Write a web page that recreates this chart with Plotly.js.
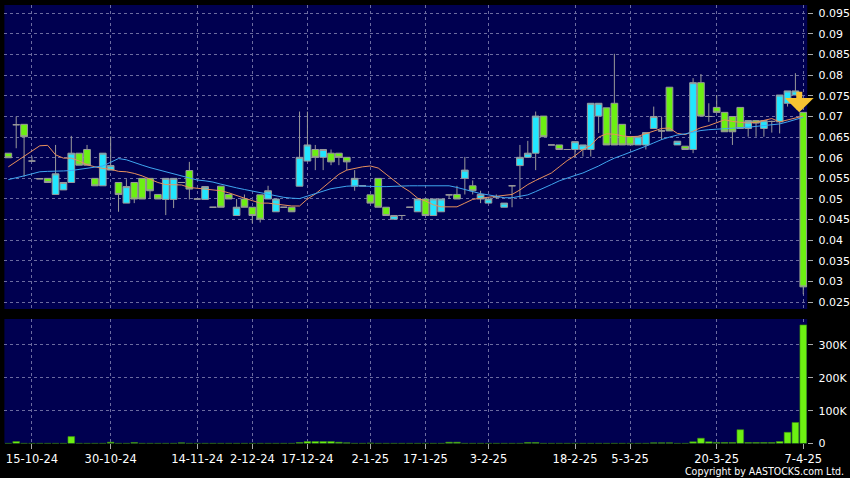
<!DOCTYPE html>
<html><head><meta charset="utf-8">
<script src="https://cdn.plot.ly/plotly-3.0.1.min.js"></script>
<style>html,body{margin:0;padding:0;background:#000;} #chart{width:850px;height:478px;}</style>
</head><body><div id="chart"></div>
<script>
const dates = ["2024-10-09","2024-10-10","2024-10-14","2024-10-15","2024-10-16","2024-10-17","2024-10-18","2024-10-21","2024-10-23","2024-10-24","2024-10-25","2024-10-28","2024-10-29","2024-10-30","2024-10-31","2024-11-01","2024-11-04","2024-11-05","2024-11-06","2024-11-07","2024-11-08","2024-11-11","2024-11-12","2024-11-13","2024-11-14","2024-11-15","2024-11-18","2024-11-20","2024-11-22","2024-11-26","2024-11-28","2024-12-02","2024-12-04","2024-12-06","2024-12-09","2024-12-11","2024-12-13","2024-12-16","2024-12-17","2024-12-18","2024-12-19","2024-12-20","2024-12-23","2024-12-24","2024-12-27","2024-12-30","2025-01-02","2025-01-03","2025-01-06","2025-01-08","2025-01-10","2025-01-13","2025-01-15","2025-01-17","2025-01-20","2025-01-21","2025-01-22","2025-01-23","2025-01-24","2025-01-27","2025-01-28","2025-02-03","2025-02-04","2025-02-05","2025-02-06","2025-02-07","2025-02-10","2025-02-11","2025-02-12","2025-02-13","2025-02-14","2025-02-17","2025-02-18","2025-02-20","2025-02-24","2025-02-26","2025-02-28","2025-03-03","2025-03-04","2025-03-05","2025-03-06","2025-03-07","2025-03-10","2025-03-11","2025-03-12","2025-03-13","2025-03-14","2025-03-17","2025-03-18","2025-03-19","2025-03-20","2025-03-21","2025-03-24","2025-03-25","2025-03-26","2025-03-27","2025-03-28","2025-03-31","2025-04-01","2025-04-02","2025-04-03","2025-04-07"];

const opens = [0.0611,0.0680,0.0681,0.0592,0.0549,0.0550,0.0511,0.0522,0.0540,0.0611,
0.0620,0.0550,0.0532,0.0570,0.0540,0.0490,0.0540,0.0550,0.0550,0.0511,
0.0499,0.0499,0.0540,0.0569,0.0500,0.0499,0.0480,0.0531,0.0511,0.0460,
0.0500,0.0480,0.0510,0.0500,0.0469,0.0480,0.0480,0.0531,0.0592,0.0620,
0.0601,0.0611,0.0611,0.0601,0.0531,0.0532,0.0510,0.0550,0.0480,0.0451,
0.0460,0.0480,0.0469,0.0500,0.0460,0.0469,0.0510,0.0511,0.0550,0.0532,
0.0500,0.0490,0.0505,0.0480,0.0532,0.0581,0.0601,0.0611,0.0701,0.0631,
0.0631,0.0620,0.0620,0.0620,0.0620,0.0701,0.0721,0.0732,0.0681,0.0651,
0.0631,0.0631,0.0671,0.0665,0.0771,0.0631,0.0628,0.0620,0.0782,0.0700,
0.0722,0.0710,0.0700,0.0722,0.0671,0.0690,0.0671,0.0688,0.0687,0.0732,
0.0752,0.0710];

const highs = [0.0611,0.0700,0.0681,0.0603,0.0549,0.0550,0.0631,0.0540,0.0653,0.0611,
0.0631,0.0550,0.0611,0.0652,0.0540,0.0548,0.0540,0.0550,0.0550,0.0511,
0.0550,0.0550,0.0540,0.0590,0.0500,0.0530,0.0480,0.0531,0.0511,0.0500,
0.0511,0.0480,0.0510,0.0532,0.0500,0.0480,0.0480,0.0712,0.0712,0.0631,
0.0620,0.0620,0.0611,0.0601,0.0570,0.0532,0.0510,0.0550,0.0480,0.0460,
0.0460,0.0480,0.0500,0.0500,0.0500,0.0500,0.0511,0.0532,0.0602,0.0545,
0.0520,0.0500,0.0511,0.0490,0.0532,0.0631,0.0641,0.0712,0.0701,0.0631,
0.0631,0.0620,0.0639,0.0631,0.0732,0.0732,0.0721,0.0852,0.0681,0.0651,
0.0651,0.0661,0.0724,0.0700,0.0771,0.0640,0.0628,0.0793,0.0803,0.0732,
0.0752,0.0710,0.0700,0.0722,0.0690,0.0690,0.0690,0.0690,0.0752,0.0762,
0.0805,0.0710];

const lows = [0.0600,0.0623,0.0554,0.0592,0.0549,0.0540,0.0511,0.0522,0.0540,0.0582,
0.0582,0.0532,0.0532,0.0570,0.0469,0.0490,0.0490,0.0500,0.0500,0.0500,
0.0461,0.0478,0.0540,0.0499,0.0500,0.0499,0.0480,0.0480,0.0500,0.0460,
0.0480,0.0441,0.0443,0.0500,0.0469,0.0480,0.0469,0.0531,0.0592,0.0570,
0.0570,0.0582,0.0582,0.0570,0.0520,0.0532,0.0490,0.0480,0.0460,0.0451,
0.0451,0.0480,0.0469,0.0460,0.0460,0.0469,0.0500,0.0500,0.0511,0.0511,
0.0490,0.0490,0.0500,0.0480,0.0480,0.0500,0.0601,0.0570,0.0651,0.0631,
0.0620,0.0620,0.0601,0.0603,0.0603,0.0660,0.0631,0.0631,0.0631,0.0631,
0.0631,0.0620,0.0671,0.0643,0.0665,0.0631,0.0620,0.0611,0.0701,0.0687,
0.0710,0.0663,0.0631,0.0671,0.0651,0.0651,0.0651,0.0661,0.0659,0.0724,
0.0752,0.0269];

const closes = [0.0600,0.0680,0.0651,0.0592,0.0549,0.0540,0.0561,0.0540,0.0611,0.0582,
0.0582,0.0532,0.0611,0.0581,0.0511,0.0530,0.0500,0.0500,0.0520,0.0500,
0.0550,0.0550,0.0540,0.0524,0.0500,0.0530,0.0480,0.0480,0.0500,0.0480,
0.0480,0.0460,0.0451,0.0520,0.0500,0.0480,0.0469,0.0601,0.0631,0.0601,
0.0620,0.0590,0.0601,0.0590,0.0550,0.0532,0.0490,0.0480,0.0460,0.0460,
0.0460,0.0480,0.0500,0.0460,0.0500,0.0500,0.0510,0.0500,0.0570,0.0520,
0.0511,0.0500,0.0505,0.0490,0.0532,0.0601,0.0611,0.0701,0.0651,0.0631,
0.0620,0.0620,0.0639,0.0631,0.0732,0.0732,0.0631,0.0631,0.0631,0.0631,
0.0651,0.0661,0.0700,0.0665,0.0665,0.0640,0.0620,0.0782,0.0701,0.0700,
0.0710,0.0663,0.0663,0.0671,0.0690,0.0684,0.0690,0.0688,0.0752,0.0762,
0.0762,0.0287];

const volumes = [500,6000,500,500,500,500,500,500,21000,500,
500,500,500,4000,500,500,3000,500,500,500,
500,500,2000,500,500,500,500,500,500,500,
500,500,500,500,500,500,500,3000,6000,6000,
6000,6000,4000,2000,500,500,1500,500,500,500,
500,500,500,500,500,500,4000,4000,500,500,
500,500,500,500,500,500,3000,3000,500,500,
500,500,500,500,500,500,500,500,500,500,
500,500,2000,2000,2000,500,500,5000,16000,5000,
3000,3000,3000,42000,3000,3000,3000,3000,6000,34000,
64000,361000];

const maShort = [0.0578,0.0591,0.0604,0.0617,0.0629,0.0630,0.0607,0.0599,0.0599,0.0592,
0.0583,0.0578,0.0574,0.0572,0.0567,0.0566,0.0562,0.0556,0.0547,0.0540,
0.0535,0.0534,0.0534,0.0528,0.0526,0.0524,0.0522,0.0520,0.0515,0.0508,
0.0502,0.0496,0.0490,0.0490,0.0488,0.0485,0.0483,0.0483,0.0500,0.0512,
0.0528,0.0545,0.0560,0.0570,0.0574,0.0578,0.0580,0.0575,0.0560,0.0545,
0.0530,0.0518,0.0502,0.0495,0.0486,0.0481,0.0481,0.0481,0.0490,0.0499,
0.0502,0.0504,0.0506,0.0508,0.0511,0.0522,0.0535,0.0545,0.0554,0.0563,
0.0578,0.0593,0.0605,0.0620,0.0630,0.0650,0.0658,0.0657,0.0653,0.0651,
0.0652,0.0658,0.0665,0.0671,0.0672,0.0659,0.0656,0.0665,0.0673,0.0678,
0.0685,0.0692,0.0688,0.0686,0.0684,0.0686,0.0690,0.0695,0.0687,0.0692,
0.0697,0.0701];

const maLong = [0.0547,0.0551,0.0556,0.0561,0.0566,0.0567,0.0567,0.0568,0.0569,0.0572,
0.0575,0.0577,0.0580,0.0589,0.0598,0.0595,0.0588,0.0582,0.0576,0.0571,
0.0566,0.0561,0.0555,0.0550,0.0546,0.0544,0.0541,0.0536,0.0531,0.0527,
0.0523,0.0519,0.0515,0.0511,0.0507,0.0504,0.0502,0.0501,0.0507,0.0513,
0.0520,0.0525,0.0528,0.0531,0.0532,0.0531,0.0531,0.0530,0.0530,0.0531,
0.0531,0.0532,0.0532,0.0532,0.0532,0.0532,0.0532,0.0528,0.0523,0.0518,
0.0513,0.0510,0.0506,0.0503,0.0503,0.0506,0.0510,0.0518,0.0526,0.0535,
0.0544,0.0551,0.0557,0.0563,0.0571,0.0580,0.0590,0.0599,0.0606,0.0613,
0.0620,0.0628,0.0636,0.0644,0.0650,0.0655,0.0658,0.0662,0.0666,0.0668,
0.0669,0.0671,0.0672,0.0673,0.0674,0.0676,0.0678,0.0680,0.0682,0.0687,
0.0693,0.0698];

const tickDates = ["2024-10-15","2024-10-30","2024-11-14","2024-12-02","2024-12-17","2025-01-02","2025-01-17","2025-02-03","2025-02-18","2025-03-05","2025-03-20","2025-04-07"];
const tickLabels = ["15-10-24","30-10-24","14-11-24","2-12-24","17-12-24","2-1-25","17-1-25","3-2-25","18-2-25","5-3-25","20-3-25","7-4-25"];
const volTickVals = [0, 100000, 200000, 300000];
const volTickLabels = ["0", "100K", "200K", "300K"];
const copyrightText = "Copyright by AASTOCKS.com Ltd.";

const upFill = '#22e6ff', downFill = '#6cf012', edge = '#9a9a9a';
const gridCol = '#6c6ca0';
const labelFont = {family: 'DejaVu Sans, sans-serif', size: 11, color: '#ffffff'};
const last = dates.length - 1;

const traces = [
  {type: 'candlestick', x: dates, open: opens, high: highs, low: lows, close: closes,
   xaxis: 'x', yaxis: 'y', whiskerwidth: 0, hoverinfo: 'skip', showlegend: false,
   increasing: {line: {color: edge, width: 1}, fillcolor: upFill},
   decreasing: {line: {color: edge, width: 1}, fillcolor: downFill}},
  {type: 'scatter', mode: 'lines', x: dates, y: maShort, xaxis: 'x', yaxis: 'y',
   line: {color: '#e8905c', width: 1}, hoverinfo: 'skip', showlegend: false},
  {type: 'scatter', mode: 'lines', x: dates, y: maLong, xaxis: 'x', yaxis: 'y',
   line: {color: '#3fa6f0', width: 1}, hoverinfo: 'skip', showlegend: false},
  {type: 'bar', x: dates, y: volumes, xaxis: 'x', yaxis: 'y2',
   marker: {color: downFill, line: {color: '#3c8c10', width: 0.6}}, hoverinfo: 'skip', showlegend: false}
];

const layout = {
  width: 850, height: 478, margin: {l: 0, r: 0, t: 0, b: 0},
  paper_bgcolor: '#000000', plot_bgcolor: '#000050',
  showlegend: false, boxgap: 0.15, boxgroupgap: 0, bargap: 0.15,
  font: labelFont,
  xaxis: {type: 'category', domain: [0.00518, 0.94965], anchor: 'y2', range: [-0.5, last + 0.5],
    rangeslider: {visible: false}, tickmode: 'array', tickvals: tickDates, ticktext: tickLabels,
    ticks: 'outside', ticklen: 5, tickcolor: '#aaaaaa', tickfont: {family: 'DejaVu Sans, sans-serif', size: 11.5, color: '#ffffff'},
    showgrid: true, gridcolor: gridCol, griddash: '3px,3px', gridwidth: 1,
    showline: false, zeroline: false, fixedrange: true},
  yaxis: {domain: [0.35356, 0.98954], anchor: 'x', side: 'right', range: [0.02333, 0.09703],
    tickmode: 'linear', tick0: 0.025, dtick: 0.005, ticks: 'outside', ticklen: 5, tickcolor: '#aaaaaa',
    ticklabelstandoff: 3,
    tickfont: labelFont, showgrid: true, gridcolor: gridCol, griddash: '3px,3px', gridwidth: 1,
    zeroline: false, showline: false, fixedrange: true},
  yaxis2: {domain: [0.07218, 0.33264], anchor: 'x', side: 'right', range: [0, 379000],
    tickmode: 'array', tickvals: volTickVals, ticktext: volTickLabels, ticks: 'outside', ticklen: 5, tickcolor: '#aaaaaa',
    ticklabelstandoff: 3,
    tickfont: labelFont, showgrid: true, gridcolor: gridCol, griddash: '3px,3px', gridwidth: 1,
    zeroline: false, showline: false, fixedrange: true},
  annotations: [
    {x: dates[last], y: opens[last], xref: 'x', yref: 'y', text: '', showarrow: true,
     ax: 0, ay: -22, xshift: -4, arrowhead: 1, arrowsize: 0.8, arrowwidth: 6, arrowcolor: '#f8c232', standoff: 0},
    {xref: 'paper', yref: 'paper', x: 0.995, y: 0.0136, xanchor: 'right', yanchor: 'middle',
     text: copyrightText, showarrow: false,
     font: {family: 'DejaVu Sans Condensed, DejaVu Sans, sans-serif', size: 10.5, color: '#ffffff'}}
  ]
};

Plotly.newPlot('chart', traces, layout, {displayModeBar: false, staticPlot: true});
</script>
</body></html>
